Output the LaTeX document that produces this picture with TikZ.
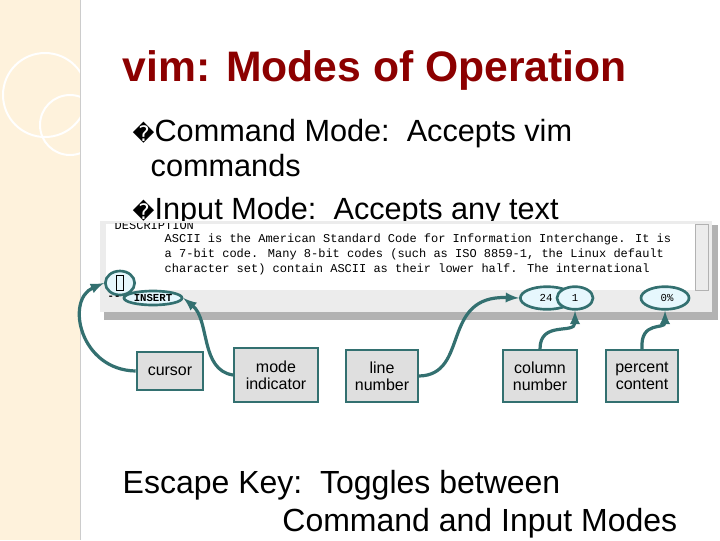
\documentclass[tikz,border=0pt]{standalone}
\usepackage{fontspec}
\usetikzlibrary{shapes.geometric}
\setmainfont{Liberation Sans}
\newfontfamily\monof{Liberation Mono}
\newfontfamily\djvf{DejaVu Sans}
\begin{document}
\begin{tikzpicture}[x=0.75pt,y=-0.75pt,
  callout/.style={draw=teal!60!black!80,line width=1.5pt,fill=gray!25,font=\fontsize{12}{13}\selectfont,align=center,inner sep=2pt},
  ring/.style={draw=teal!60!black!80,line width=2pt,fill=cyan!10},
  link/.style={draw=teal!60!black!80,line width=2.4pt,-latex},
  body/.style={anchor=base west,font=\fontsize{23}{26}\selectfont}]
\useasboundingbox (0,0) rectangle (720,540);
\fill[white] (0,0) rectangle (720,540);
\fill[yellow!25!orange!12] (0,0) rectangle (80,540);
\draw[white,line width=1.5pt] (45,95) circle (42);
\draw[white,line width=1.5pt] (70,125) circle (30);
\draw[gray!40] (80,0) -- (80,540);
\node[anchor=base west,text=red!55!black,font=\bfseries\fontsize{32}{34}\selectfont] (title) at (118,81) {vim: Modes of Operation};
\node[body] (b1) at (128,141) {{\djvf\fontsize{16}{16}\selectfont �}Command Mode:\ \ Accepts vim};
\node[body] (b2) at (146,176) {commands};
\node[body] (b3) at (128,219) {{\djvf\fontsize{16}{16}\selectfont �}Input Mode:\ \ Accepts any text};
% window
\fill[gray!60] (104,225) rectangle (718,320);
\fill[gray!15] (100,221) rectangle (712,312);
\fill[white] (106,224) rectangle (695,290);
\draw[gray!60] (695,224) rectangle (708,290);
\begin{scope}
\clip (100,223) rectangle (300,240);
\node[anchor=base west,font=\monof\fontsize{9}{10}\selectfont] (w0) at (110,229) {DESCRIPTION};
\end{scope}
\node[anchor=base west,font=\monof\fontsize{9}{10}\selectfont] (w1) at (160,242) {ASCII is the American Standard Code for Information Interchange.  It is};
\node[anchor=base west,font=\monof\fontsize{9}{10}\selectfont] (w2) at (160,257) {a  7-bit code.  Many 8-bit codes (such as ISO 8859-1, the Linux default};
\node[anchor=base west,font=\monof\fontsize{9}{10}\selectfont] (w3) at (160,272) {character set) contain ASCII as their lower  half.   The  international};
\node[ring,minimum width=22pt,minimum height=18pt,ellipse] (ecur) at (120,283) {};
\node[draw,line width=0.8pt,minimum width=5pt,minimum height=11pt,inner sep=0pt] (curglyph) at (120,283) {};
\node[font=\monof\bfseries\fontsize{8}{9}\selectfont] (dash) at (114,298) {--};
\node[ring,ellipse,inner sep=1pt,font=\monof\bfseries\fontsize{8}{9}\selectfont] (eins) at (153,298) {INSERT};
\node[ring,ellipse,minimum width=40pt,minimum height=17pt] (e24) at (547,298) {};
\node[ring,ellipse,minimum width=27pt,minimum height=17pt] (e1) at (575,298) {};
\node[font=\monof\fontsize{8}{9}\selectfont] (t24) at (546,298) {24};
\node[font=\monof\fontsize{8}{9}\selectfont] (t1) at (575,298) {1};
\node[ring,ellipse,minimum width=36pt,minimum height=17pt] (epc) at (665,298) {};
\node[font=\monof\fontsize{8}{9}\selectfont] (tpc) at (667,298) {0\%};
% callouts
\node[callout,minimum width=50pt,minimum height=28pt] (cur) at (170,371) {cursor};
\node[callout,minimum width=63pt,minimum height=40pt] (mode) at (276,375) {mode\\indicator};
\node[callout,minimum width=54pt,minimum height=39pt] (line) at (382,376) {line\\number};
\node[callout,minimum width=55pt,minimum height=39pt] (col) at (540,376) {column\\number};
\node[callout,minimum width=54pt,minimum height=39pt] (pct) at (642,376) {percent\\content};
\draw[link] (cur.west) .. controls (80,370) and (65,300) .. (ecur.west);
\draw[link] (mode.west) .. controls (200,370) and (210,320) .. (eins.east);
\draw[link] (line.east) .. controls (470,375) and (440,295) .. (e24.west);
\draw[link] (col.north) .. controls (540,320) and (575,335) .. (e1.south);
\draw[link] (pct.north) .. controls (640,320) and (665,330) .. (epc.south);
\node[anchor=base west,font=\fontsize{24}{26}\selectfont] (esc1) at (118,493) {Escape Key:\ \ Toggles between};
\node[anchor=base east,font=\fontsize{24}{26}\selectfont] (esc2) at (682,531) {Command and Input Modes};
\end{tikzpicture}
\end{document}
